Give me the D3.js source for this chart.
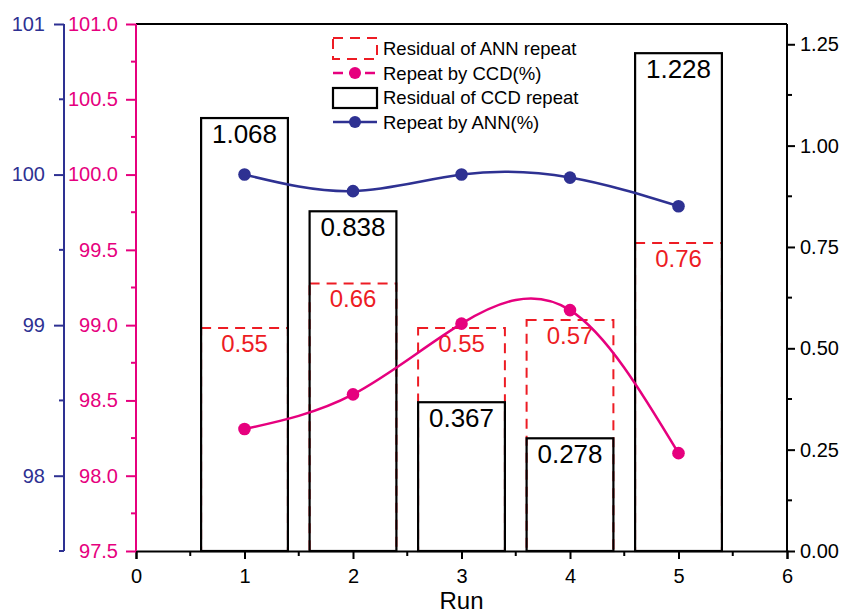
<!doctype html>
<html lang="en">
<head>
	<meta charset="UTF-8">
	<title>Repeat runs</title>
	<script src="https://cdn.jsdelivr.net/npm/d3@7/dist/d3.min.js"></script>
	<style>
		body { margin: 0; background: #fff; }
		text { font-family: "Liberation Sans", Arial, sans-serif; }
	</style>
</head>
<body>
	<script type="text/javascript">
		var w = 851, h = 615;

		// data
		var runs = [1, 2, 3, 4, 5];
		var ccdResidual = [1.068, 0.838, 0.367, 0.278, 1.228];
		var annResidual = [0.55, 0.66, 0.55, 0.57, 0.76];
		var repeatCCD = [98.31, 98.54, 99.01, 99.10, 98.15];
		var repeatANN = [100.0, 99.89, 100.0, 99.98, 99.79];
		var xTicks = [0, 1, 2, 3, 4, 5, 6];
		var pinkTicks = [97.5, 98.0, 98.5, 99.0, 99.5, 100.0, 100.5, 101.0];
		var blueTicks = [98, 99, 100, 101];
		var rightTicks = [0, 0.25, 0.5, 0.75, 1.0, 1.25];

		var blue = "#2e3192", pink = "#e6007e", red = "#ed1c24";

		var x = d3.scaleLinear().domain([0, 6]).range([136, 787]);
		var yL = d3.scaleLinear().domain([97.5, 101]).range([551, 24]);
		var yR = d3.scaleLinear().domain([0, 1.3]).range([551, 24]);

		var svg = d3.select("body").append("svg")
			.attr("width", w).attr("height", h);

		// frame: top line
		svg.append("line")
			.attr("x1", x(0)).attr("x2", x(6)).attr("y1", 24).attr("y2", 24)
			.attr("stroke", "#000").attr("stroke-width", 2);

		// ANN residual bars (red dashed)
		svg.append("g").selectAll("rect")
			.data(annResidual).enter().append("rect")
			.attr("x", function(d, i) { return x(runs[i] - 0.4); })
			.attr("width", function(d, i) { return x(runs[i] + 0.4) - x(runs[i] - 0.4); })
			.attr("y", function(d) { return yR(d); })
			.attr("height", function(d) { return yR(0) - yR(d); })
			.attr("fill", "none").attr("stroke", red)
			.attr("stroke-width", 2).attr("stroke-dasharray", "10,7");

		// CCD residual bars (black)
		svg.append("g").selectAll("rect")
			.data(ccdResidual).enter().append("rect")
			.attr("x", function(d, i) { return x(runs[i] - 0.4); })
			.attr("width", function(d, i) { return x(runs[i] + 0.4) - x(runs[i] - 0.4); })
			.attr("y", function(d) { return yR(d); })
			.attr("height", function(d) { return yR(0) - yR(d); })
			.attr("fill", "none").attr("stroke", "#000").attr("stroke-width", 2.2);

		// bar labels
		svg.append("g").selectAll("text")
			.data(ccdResidual).enter().append("text")
			.attr("x", function(d, i) { return x(runs[i]); })
			.attr("y", function(d) { return yR(d) + 25; })
			.attr("text-anchor", "middle").attr("font-size", "26px").attr("fill", "#000")
			.text(function(d) { return d3.format(".3f")(d); });

		svg.append("g").selectAll("text")
			.data(annResidual).enter().append("text")
			.attr("x", function(d, i) { return x(runs[i]); })
			.attr("y", function(d) { return yR(d) + 24; })
			.attr("text-anchor", "middle").attr("font-size", "24px").attr("fill", red)
			.text(function(d) { return d3.format(".2f")(d); });

		// lines
		function drawSeries(vals, col) {
			var line = d3.line()
				.x(function(d, i) { return x(runs[i]); })
				.y(function(d) { return yL(d); })
				.curve(d3.curveNatural);
			svg.append("path").datum(vals)
				.attr("d", line).attr("fill", "none")
				.attr("stroke", col).attr("stroke-width", 2.5);
			svg.append("g").selectAll("circle")
				.data(vals).enter().append("circle")
				.attr("cx", function(d, i) { return x(runs[i]); })
				.attr("cy", function(d) { return yL(d); })
				.attr("r", 6.3).attr("fill", col);
		}
		drawSeries(repeatCCD, pink);
		drawSeries(repeatANN, blue);

		// bottom axis
		var xAxis = d3.axisBottom(x).tickValues(xTicks).tickSize(8).tickPadding(10)
			.tickFormat(d3.format("d"));
		var gx = svg.append("g").attr("transform", "translate(0,551)").call(xAxis);
		gx.select(".domain").attr("stroke-width", 2);
		gx.selectAll(".tick line").attr("stroke-width", 2);
		gx.selectAll("text").attr("font-size", "20px").attr("font-family", "Liberation Sans, Arial, sans-serif");
		gx.append("g").selectAll("line")
			.data([0.5, 1.5, 2.5, 3.5, 4.5, 5.5]).enter().append("line")
			.attr("x1", function(d) { return x(d); }).attr("x2", function(d) { return x(d); })
			.attr("y1", 0).attr("y2", 5).attr("stroke", "#000").attr("stroke-width", 2);

		svg.append("text")
			.attr("x", x(3)).attr("y", 609)
			.attr("text-anchor", "middle").attr("font-size", "24px")
			.text("Run");

		// right axis
		var rAxis = d3.axisRight(yR).tickValues(rightTicks).tickSize(8).tickPadding(5)
			.tickFormat(d3.format(".2f"));
		var gr = svg.append("g").attr("transform", "translate(787,0)").call(rAxis);
		gr.select(".domain").attr("stroke-width", 2).attr("d", "M0,24V551");
		gr.selectAll(".tick line").attr("stroke-width", 2);
		gr.selectAll("text").attr("font-size", "20px").attr("font-family", "Liberation Sans, Arial, sans-serif");
		gr.append("g").selectAll("line")
			.data([0.125, 0.375, 0.625, 0.875, 1.125]).enter().append("line")
			.attr("y1", function(d) { return yR(d); }).attr("y2", function(d) { return yR(d); })
			.attr("x1", 0).attr("x2", 5).attr("stroke", "#000").attr("stroke-width", 2);

		// pink left axis
		var pAxis = d3.axisLeft(yL).tickValues(pinkTicks).tickSize(10).tickPadding(8)
			.tickFormat(d3.format(".1f"));
		var gp = svg.append("g").attr("transform", "translate(136,0)").call(pAxis);
		gp.select(".domain").attr("stroke", pink).attr("stroke-width", 2).attr("d", "M0,551V24");
		gp.selectAll(".tick line").attr("stroke", pink).attr("stroke-width", 2);
		gp.selectAll("text").attr("fill", pink).attr("font-size", "20px").attr("font-family", "Liberation Sans, Arial, sans-serif");
		gp.append("g").selectAll("line")
			.data([97.75, 98.25, 98.75, 99.25, 99.75, 100.25, 100.75]).enter().append("line")
			.attr("y1", function(d) { return yL(d); }).attr("y2", function(d) { return yL(d); })
			.attr("x1", 0).attr("x2", -5).attr("stroke", pink).attr("stroke-width", 2);

		// blue left axis
		var bAxis = d3.axisLeft(yL).tickValues(blueTicks).tickSize(10).tickPadding(9)
			.tickFormat(d3.format("d"));
		var gb = svg.append("g").attr("transform", "translate(64,0)").call(bAxis);
		gb.select(".domain").attr("stroke", blue).attr("stroke-width", 2).attr("d", "M0,551V24");
		gb.selectAll(".tick line").attr("stroke", blue).attr("stroke-width", 2);
		gb.selectAll("text").attr("fill", blue).attr("font-size", "20px").attr("font-family", "Liberation Sans, Arial, sans-serif");
		gb.append("g").selectAll("line")
			.data([97.5, 98.5, 99.5, 100.5]).enter().append("line")
			.attr("y1", function(d) { return yL(d); }).attr("y2", function(d) { return yL(d); })
			.attr("x1", 0).attr("x2", -5).attr("stroke", blue).attr("stroke-width", 2);

		// legend
		var legend = svg.append("g").attr("transform", "translate(333,0)");
		legend.append("rect").attr("x", 0).attr("y", 38).attr("width", 44).attr("height", 21)
			.attr("fill", "none").attr("stroke", red).attr("stroke-width", 2).attr("stroke-dasharray", "10,7");
		legend.append("line").attr("x1", 0).attr("x2", 44).attr("y1", 73).attr("y2", 73)
			.attr("stroke", pink).attr("stroke-width", 2.5).attr("stroke-dasharray", "10,6");
		legend.append("circle").attr("cx", 22).attr("cy", 73).attr("r", 6).attr("fill", pink);
		legend.append("rect").attr("x", 0).attr("y", 88).attr("width", 44).attr("height", 20)
			.attr("fill", "none").attr("stroke", "#000").attr("stroke-width", 2.2);
		legend.append("line").attr("x1", 0).attr("x2", 44).attr("y1", 122).attr("y2", 122)
			.attr("stroke", blue).attr("stroke-width", 2.5);
		legend.append("circle").attr("cx", 22).attr("cy", 122).attr("r", 6).attr("fill", blue);

		var legendLabels = ["Residual of ANN repeat", "Repeat by CCD(%)", "Residual of CCD repeat", "Repeat by ANN(%)"];
		legend.selectAll("text.lab")
			.data(legendLabels).enter().append("text")
			.attr("class", "lab")
			.attr("x", 50).attr("y", function(d, i) { return 55 + i * 24.7; })
			.attr("font-size", "18.5px").attr("fill", "#000")
			.text(function(d) { return d; });
	</script>
</body>
</html>
